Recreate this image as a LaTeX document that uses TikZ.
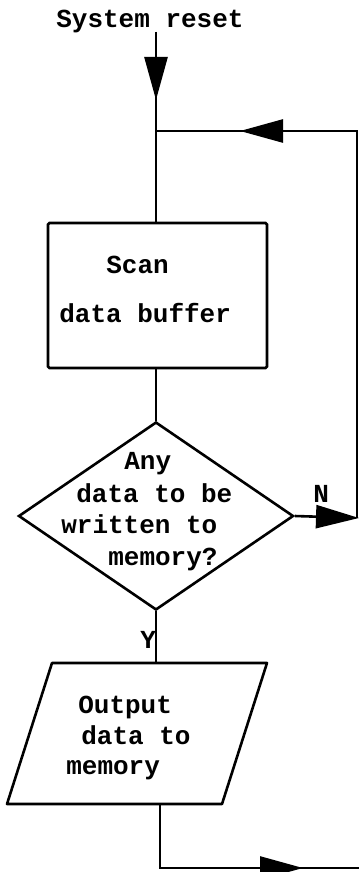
\documentclass[tikz,border=0pt]{standalone}
\usepackage{fontspec}
\setmonofont{Liberation Mono}
\usetikzlibrary{arrows.meta,shapes.geometric}
\begin{document}
\begin{tikzpicture}[x=1pt,y=-1pt,line width=2.6pt,
  txt/.style={font=\ttfamily\bfseries\fontsize{26}{32}\selectfont,inner sep=0,anchor=base west},
  head/.style={-{Triangle[length=43pt,width=23pt]}},
  box/.style={draw,inner sep=0,rounded corners=1.5pt}]
\useasboundingbox (0,0) rectangle (359,872);

% entry label
\node[txt] (reset) at (55,28) {System reset};

% process: scan
\node[box,minimum width=219pt,minimum height=145pt] (scan) at (157.5,295.5) {};
\node[txt] (scan1) at (105,273) {Scan};
\node[txt] (scan2) at (58,322.5) {data buffer};

% decision
\node[draw,diamond,inner sep=0,minimum width=275pt,minimum height=188pt] (ask) at (156,516) {};
\node[txt] (ask1) at (123,469) {Any};
\node[txt] (ask2) at (75,502) {data to be};
\node[txt] (ask3) at (60,533) {written to};
\node[txt] (ask4) at (107,565) {memory?};

% output (parallelogram)
\coordinate (outNW) at (52,663);
\coordinate (outNE) at (267,663);
\coordinate (outSE) at (222,804);
\coordinate (outSW) at (7,804);
\draw[line join=round] (outNW) -- (outNE) -- (outSE) -- (outSW) -- cycle;
\node[txt] (out1) at (77,713) {Output};
\node[txt] (out2) at (80,744) {data to};
\node[txt] (out3) at (65,774) {memory};

% branch labels
\node[txt] (lblN) at (312,502) {N};
\node[txt] (lblY) at (139,648) {Y};

% connector points
\coordinate (top) at (156,32);
\coordinate (downtip) at (156,100);
\coordinate (join) at (156,131);
\coordinate (rt) at (357,131);
\coordinate (lefttip) at (240,131);
\coordinate (rb) at (357,518);
\coordinate (ntip) at (359,518);
\coordinate (bl) at (160,868);
\coordinate (righttip) at (303,868);
\coordinate (br) at (359,868);

% main flow
\draw (top) -- (scan.north -| top);
\draw[head] (top) -- (downtip);
\draw (scan.south -| ask.north) -- (ask.north);
\draw (ask.south) -- (ask.south |- outNW);

% loop back
\draw (rb) -- (rt) -- (join);
\draw[head] (rt) -- (lefttip);
\draw[head] (ask.east) -- (ntip);

% exit
\draw (bl |- outSW) -- (bl) -- (br);
\draw[head] (bl) -- (righttip);
\end{tikzpicture}
\end{document}
